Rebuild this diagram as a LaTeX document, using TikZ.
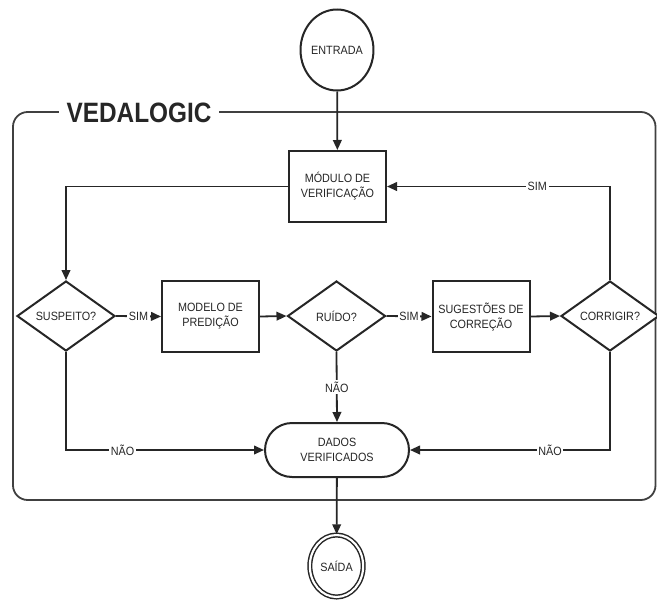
\documentclass[tikz,border=0pt]{standalone}
\usepackage{fontspec}
\setmainfont{Liberation Sans}[FakeStretch=0.9]
\newfontfamily\titlefont{Liberation Sans}[FakeStretch=0.87]
\usetikzlibrary{shapes.geometric,shapes.misc,arrows.meta}
\definecolor{ink}{HTML}{262626}
\definecolor{framecol}{HTML}{404040}
\newcommand{\lblfont}{\fontsize{9pt}{11.25pt}\selectfont}
\tikzset{
  conn/.style={draw=ink, line width=1.35pt},
  arr/.style={conn, -{Triangle[length=7.5pt,width=6.5pt]}},
  procbox/.style={rectangle, draw=ink, line width=1.5pt, fill=white,
    minimum width=72.75pt, minimum height=53.25pt, inner sep=0pt,
    align=center, font=\lblfont, text=ink},
  decision/.style={diamond, aspect=1.4, draw=ink, line width=1.5pt, fill=white,
    minimum width=73.5pt, minimum height=52.5pt, inner sep=0pt,
    align=center, font=\lblfont, text=ink},
  terminal/.style={rounded rectangle, draw=ink, line width=1.5pt, fill=white,
    minimum width=108pt, minimum height=40.5pt, inner sep=0pt,
    align=center, font=\lblfont, text=ink},
  startend/.style={ellipse, draw=ink, line width=1.5pt, fill=white,
    minimum width=49.5pt, minimum height=60.75pt, inner sep=0pt,
    align=center, font=\lblfont, text=ink},
  lab/.style={fill=white, inner sep=1.2pt, font=\lblfont, text=ink},
  frame/.style={draw=framecol, line width=1.35pt, rounded corners=11pt},
}
\begin{document}
\begin{tikzpicture}[x=0.75pt,y=-0.75pt]
\useasboundingbox[fill=white] (0,0) rectangle (657,600);

% frame and title
\draw[frame] (13,112) rectangle (655.5,500);
\node[fill=white, inner sep=0pt, minimum width=120pt, minimum height=20pt,
      font=\titlefont\bfseries\fontsize{21pt}{21pt}\selectfont, text=ink]
      (title) at (139,113) {VEDALOGIC};

% nodes
\node[startend] (entrada) at (337,50) {ENTRADA};
\node[procbox] (modulo) at (337.5,186.5) {MÓDULO DE\\VERIFICAÇÃO};
\node[decision] (suspeito) at (66,316) {SUSPEITO?};
\node[procbox] (modelo) at (210.5,316.5) {MODELO DE\\PREDIÇÃO};
\node[decision] (ruido) at (336.5,316) {RUÍDO?};
\node[procbox] (sugestoes) at (481,316.5) {SUGESTÕES DE\\CORREÇÃO};
\node[decision] (corrigir) at (610,316) {CORRIGIR?};
\node[terminal] (dados) at (337,450) {DADOS\\VERIFICADOS};
\node[startend, double, double distance=1.6pt, line width=1.1pt,
      minimum width=40pt, minimum height=46.5pt] (saida) at (336.5,566) {SAÍDA};

% connectors
\draw[arr] (entrada) -- (modulo);
\draw[arr] (modulo.west) -| (suspeito.north);
\draw[arr] (suspeito.east) -- node[lab] {SIM} (modelo.west);
\draw[arr] (modelo.east) -- (ruido.west);
\draw[arr] (ruido.east) -- node[lab] {SIM} (sugestoes.west);
\draw[arr] (sugestoes.east) -- (corrigir.west);
\draw[arr] (corrigir.north) |- node[lab, pos=0.663] {SIM} (modulo.east);
\draw[arr] (ruido.south) -- node[lab] {NÃO} (dados.north);
\draw[arr] (suspeito.south) |- node[lab, pos=0.643] {NÃO} (dados.west);
\draw[arr] (corrigir.south) |- node[lab, pos=0.65] {NÃO} (dados.east);
\draw[arr] (dados) -- (saida);
\end{tikzpicture}
\end{document}
